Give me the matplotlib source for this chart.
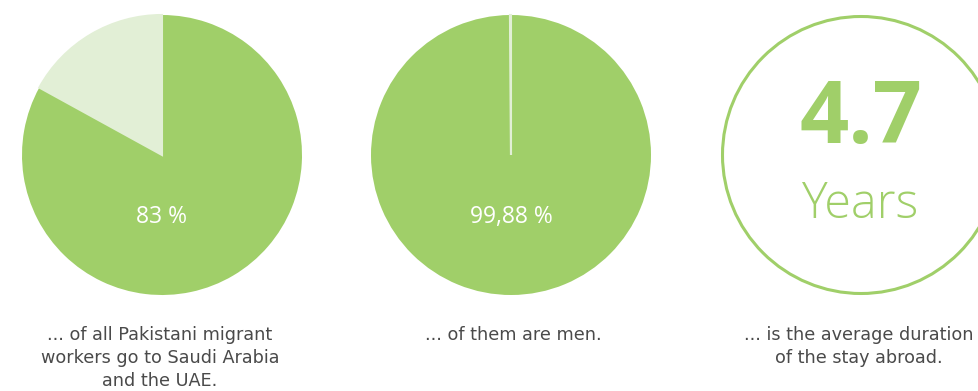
import matplotlib.pyplot as plt
from matplotlib.patches import Circle

# shares shown in the two pies (percent)
gulf_share = [83, 17]
male_share = [99.88, 0.12]
pie_labels = ["83 %", "99,88 %"]
avg_stay_years = "4.7"

captions = [
    ["... of all Pakistani migrant", "workers go to Saudi Arabia", "and the UAE."],
    ["... of them are men."],
    ["... is the average duration", "of the stay abroad."],
]

green = "#a0cf69"
pale = "#e2efd6"
text_grey = "#4a4a4a"

plt.rcParams['font.family'] = ['Open Sans', 'DejaVu Sans']

W, H = 979, 391
fig = plt.figure(figsize=(W / 100, H / 100), dpi=100)
ax = fig.add_axes([0, 0, 1, 1])

centers_x = [162, 511, 861]
cy = H - 155
r = 140

for cx, vals, lab in zip(centers_x[:2], [gulf_share, male_share], pie_labels):
    wedges, _ = ax.pie(vals, colors=[green, pale], startangle=90,
                       counterclock=False, center=(cx, cy), radius=r,
                       frame=True, wedgeprops=dict(linewidth=0))
    # thin outline so the small slice stays visible
    wedges[1].set_edgecolor(pale)
    wedges[1].set_linewidth(1.5)
    ax.text(cx, H - 217, lab, color="white", fontsize=16.5,
            ha="center", va="center")

# ring for the average duration
ax.add_patch(Circle((centers_x[2], cy), r - 1.5, fill=False,
                    edgecolor=green, linewidth=2.2))
ax.text(centers_x[2], H - 121, avg_stay_years, color=green, fontsize=62,
        fontweight="bold", ha="center", va="center")
ax.text(centers_x[2], H - 205, "Years", color=green, fontsize=35,
        fontweight="light", ha="center", va="center")

cap_x = [160, 513, 859]
for cx, lines in zip(cap_x, captions):
    for i, line in enumerate(lines):
        ax.text(cx, H - (340 + 23 * i), line, color=text_grey, fontsize=12.7,
                family="DejaVu Sans", ha="center", va="baseline")

ax.set_xlim(0, W)
ax.set_ylim(0, H)
ax.set_aspect("equal")
ax.axis("off")

fig.savefig("out.png", dpi=100, facecolor="white")
